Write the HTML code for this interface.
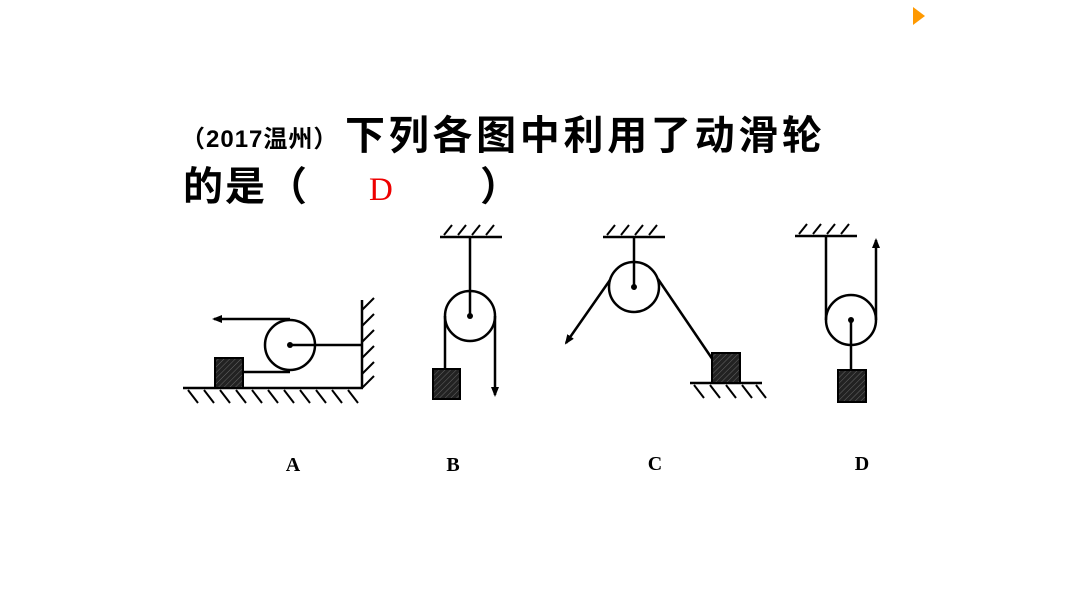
<!DOCTYPE html>
<html><head><meta charset="utf-8"><style>
html,body{margin:0;padding:0;background:#fff;}
body{width:1066px;height:600px;position:relative;overflow:hidden;font-family:"Liberation Sans","Noto Sans CJK SC",sans-serif;}
.t{position:absolute;white-space:nowrap;font-weight:bold;color:#000;}
</style></head><body>
<div class="t" style="left:181px;top:119px;font-size:24px;letter-spacing:1px;">（2017温州）</div>
<div class="t" style="left:345px;top:103px;font-size:40px;letter-spacing:3.7px;">下列各图中利用了动滑轮</div>
<div class="t" style="left:183px;top:154px;font-size:40px;letter-spacing:2px;">的是（</div>
<div class="t" style="left:369px;top:172px;font-size:33px;color:#e00;font-family:'Liberation Serif',serif;font-weight:normal;">D</div>
<div class="t" style="left:480px;top:154px;font-size:40px;">）</div>
<svg width="1066" height="600" style="position:absolute;left:0;top:0" xmlns="http://www.w3.org/2000/svg">
<defs>
<pattern id="h" width="4" height="4" patternUnits="userSpaceOnUse" patternTransform="rotate(45)">
<rect width="4" height="4" fill="#222"/><line x1="0" y1="0" x2="0" y2="4" stroke="#666" stroke-width="1"/></pattern>
<marker id="a" markerWidth="10" markerHeight="8" refX="8" refY="4" orient="auto" markerUnits="userSpaceOnUse"><path d="M0,0 L10,4 L0,8 Z" fill="#000"/></marker>
</defs>
<polygon points="913,7 925,16 913,25" fill="#f90"/>
<g stroke="#000" stroke-width="2.5" fill="none">
<line x1="183" y1="388" x2="363" y2="388"/>
<g stroke-width="2">
<line x1="188" y1="390" x2="198" y2="403"/><line x1="204" y1="390" x2="214" y2="403"/><line x1="220" y1="390" x2="230" y2="403"/><line x1="236" y1="390" x2="246" y2="403"/><line x1="252" y1="390" x2="262" y2="403"/><line x1="268" y1="390" x2="278" y2="403"/><line x1="284" y1="390" x2="294" y2="403"/><line x1="300" y1="390" x2="310" y2="403"/><line x1="316" y1="390" x2="326" y2="403"/><line x1="332" y1="390" x2="342" y2="403"/><line x1="348" y1="390" x2="358" y2="403"/>
<line x1="362" y1="310" x2="374" y2="298"/><line x1="362" y1="326" x2="374" y2="314"/><line x1="362" y1="342" x2="374" y2="330"/><line x1="362" y1="358" x2="374" y2="346"/><line x1="362" y1="374" x2="374" y2="362"/><line x1="362" y1="388" x2="374" y2="376"/>
</g>
<line x1="362" y1="300" x2="362" y2="388"/>
<circle cx="290" cy="345" r="25"/>
<line x1="290" y1="345" x2="362" y2="345"/>
<line x1="290" y1="319" x2="214" y2="319" marker-end="url(#a)"/>
<line x1="243" y1="372" x2="290" y2="372"/>
<rect x="215" y="358" width="28" height="30" fill="url(#h)" stroke="#000" stroke-width="2"/>
<line x1="440" y1="237" x2="502" y2="237"/>
<g stroke-width="2"><line x1="444" y1="235" x2="452" y2="225"/><line x1="458" y1="235" x2="466" y2="225"/><line x1="472" y1="235" x2="480" y2="225"/><line x1="486" y1="235" x2="494" y2="225"/></g>
<line x1="470" y1="237" x2="470" y2="316"/>
<circle cx="470" cy="316" r="25"/>
<line x1="445" y1="316" x2="445" y2="370"/>
<line x1="495" y1="316" x2="495" y2="395" marker-end="url(#a)"/>
<rect x="433" y="369" width="27" height="30" fill="url(#h)" stroke="#000" stroke-width="2"/>
<line x1="603" y1="237" x2="665" y2="237"/>
<g stroke-width="2"><line x1="607" y1="235" x2="615" y2="225"/><line x1="621" y1="235" x2="629" y2="225"/><line x1="635" y1="235" x2="643" y2="225"/><line x1="649" y1="235" x2="657" y2="225"/></g>
<line x1="634" y1="237" x2="634" y2="287"/>
<circle cx="634" cy="287" r="25"/>
<line x1="610" y1="280" x2="566" y2="343" marker-end="url(#a)"/>
<line x1="658" y1="279" x2="713" y2="360"/>
<line x1="690" y1="383" x2="762" y2="383"/>
<g stroke-width="2"><line x1="694" y1="385" x2="704" y2="398"/><line x1="710" y1="385" x2="720" y2="398"/><line x1="726" y1="385" x2="736" y2="398"/><line x1="742" y1="385" x2="752" y2="398"/><line x1="756" y1="385" x2="766" y2="398"/></g>
<rect x="712" y="353" width="28" height="30" fill="url(#h)" stroke="#000" stroke-width="2"/>
<line x1="795" y1="236" x2="857" y2="236"/>
<g stroke-width="2"><line x1="799" y1="234" x2="807" y2="224"/><line x1="813" y1="234" x2="821" y2="224"/><line x1="827" y1="234" x2="835" y2="224"/><line x1="841" y1="234" x2="849" y2="224"/></g>
<line x1="826" y1="236" x2="826" y2="320"/>
<circle cx="851" cy="320" r="25"/>
<line x1="876" y1="320" x2="876" y2="240" marker-end="url(#a)"/>
<line x1="851" y1="320" x2="851" y2="370"/>
<rect x="838" y="370" width="28" height="32" fill="url(#h)" stroke="#000" stroke-width="2"/>
</g>
<g fill="#000" stroke="none"><circle cx="290" cy="345" r="3"/><circle cx="470" cy="316" r="3"/><circle cx="634" cy="287" r="3"/><circle cx="851" cy="320" r="3"/></g>
<g font-family="Liberation Serif,serif" font-weight="bold" font-size="20" fill="#000" text-anchor="middle">
<text x="293" y="471">A</text><text x="453" y="471">B</text><text x="655" y="470">C</text><text x="862" y="470">D</text>
</g>
</svg>
</body></html>
